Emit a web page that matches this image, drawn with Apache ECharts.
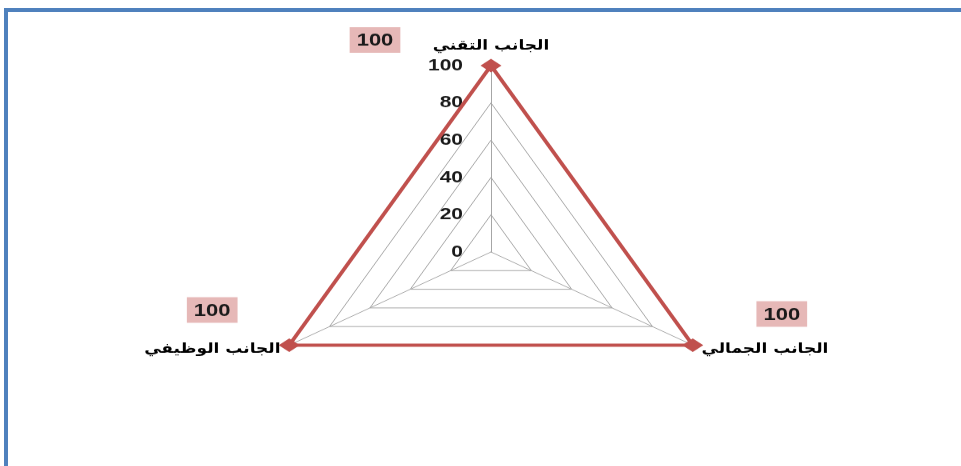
<!DOCTYPE html>
<html>
<head>
<meta charset="UTF-8">
<title>radar</title>
<script src="https://cdn.jsdelivr.net/npm/echarts@6/dist/echarts.min.js"></script>
<style>
  html, body { margin: 0; padding: 0; background: #fff; overflow: hidden; }
  body { width: 961px; height: 466px; position: relative; }
  /* the reference picture is squashed vertically, so the chart is too */
  #chart { position: absolute; left: 0; top: 0; width: 961px; height: 583px;
           transform: scaleY(0.8); transform-origin: 0 0; }
  #frame { position: absolute; left: 4px; top: 8px; width: 980px; height: 480px;
           border-top: 4px solid #4f81bd; border-left: 4px solid #4f81bd; pointer-events: none; }
</style>
</head>
<body>
<div id="chart"></div>
<div id="frame"></div>
<script>
// categories, counter-clockwise from the top
var indicatorNames = ['الجانب التقني', 'الجانب الوظيفي', 'الجانب الجمالي'];
var indicatorMax = [100, 100, 100];
var seriesValues = [100, 100, 100];
var tickLabels = [0, 20, 40, 60, 80, 100];

// where each pink value box sits relative to its point
var boxOffsets = [[-116, -32], [-77, -44], [89, -39]];

var red = '#c0504d';
var chart = echarts.init(document.getElementById('chart'));

var labelItems = seriesValues.map(function (v, k) {
  return {
    value: seriesValues,
    label: {
      show: true,
      position: 'inside',
      offset: boxOffsets[k],
      formatter: function (p) {
        return p.dimensionIndex === k ? '{box|' + p.value + '}' : '';
      },
      rich: {
        box: {
          backgroundColor: '#e6b8b7',
          padding: [6, 7, 4, 7],
          fontSize: 22,
          fontWeight: 'bold',
          fontFamily: 'Liberation Sans, Arial',
          color: '#1a1a1a'
        }
      }
    }
  };
});

var option = {
  animation: false,
  radar: {
    center: [491, 315],
    radius: 233,
    startAngle: 90,
    splitNumber: tickLabels.length - 1,
    shape: 'polygon',
    indicator: indicatorNames.map(function (n, i) {
      return { name: n, min: 0, max: indicatorMax[i] };
    }),
    nameGap: 10,
    axisName: {
      color: '#000',
      fontSize: 17,
      fontWeight: 'bold',
      fontFamily: 'DejaVu Sans',
      padding: [0, 0, 6, 0]
    },
    axisLine: { lineStyle: { color: '#a6a6a6', width: 1 } },
    splitLine: { lineStyle: { color: '#a6a6a6', width: 1 } },
    splitArea: { show: false },
    axisTick: { show: false },
    axisLabel: { show: false }
  },
  // a plain value axis laid on the top spoke, only to print the tick labels
  grid: { left: 491, top: 82, width: 1, height: 233 },
  xAxis: { type: 'value', show: false },
  yAxis: {
    type: 'value',
    min: tickLabels[0],
    max: tickLabels[tickLabels.length - 1],
    interval: tickLabels[1] - tickLabels[0],
    axisLine: { show: false },
    axisTick: { show: false },
    splitLine: { show: false },
    axisLabel: {
      margin: 28,
      fontSize: 21,
      fontWeight: 'bold',
      fontFamily: 'Liberation Sans, Arial',
      color: '#1a1a1a'
    }
  },
  series: [
    {
      type: 'radar',
      symbol: 'diamond',
      symbolSize: [21, 17],
      lineStyle: { color: red, width: 4 },
      itemStyle: { color: red },
      data: [{ value: seriesValues }]
    },
    {
      type: 'radar',
      symbol: 'circle',
      symbolSize: 1,
      lineStyle: { width: 0, opacity: 0 },
      itemStyle: { color: 'rgba(0,0,0,0)' },
      data: labelItems
    }
  ]
};
chart.setOption(option);
</script>
</body>
</html>
